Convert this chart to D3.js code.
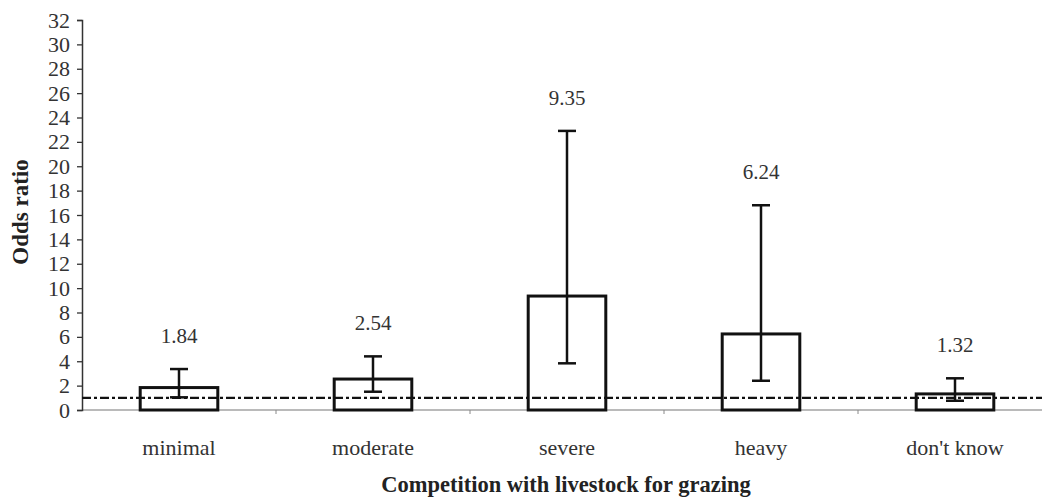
<!DOCTYPE html>
<html><head><meta charset="utf-8">
<script src="https://cdn.jsdelivr.net/npm/d3@7"></script>
<style>body{margin:0;background:#fff;}svg{display:block;}</style>
</head><body>
<svg id="c" width="1042" height="503"></svg>
<script>
const categories = ["minimal", "moderate", "severe", "heavy", "don't know"];
const oddsRatio = [1.84, 2.54, 9.35, 6.24, 1.32];
const ciLower = [1.04, 1.5, 3.83, 2.4, 0.76];
const ciUpper = [3.36, 4.4, 22.9, 16.8, 2.6];
const valueLabels = ["1.84", "2.54", "9.35", "6.24", "1.32"];
const yTicks = [0,2,4,6,8,10,12,14,16,18,20,22,24,26,28,30,32];
const referenceValue = 1;
const xTitle = "Competition with livestock for grazing";
const yTitle = "Odds ratio";

const svg = d3.select("#c");
const font = "'Liberation Serif','Times New Roman',serif";
const txt = "#333";
const x0 = 82, x1 = 1052, yTop = 20, yBot = 410;

const x = d3.scaleBand().domain(categories).range([x0, x1]).padding(0);
const y = d3.scaleLinear().domain([0, 32]).range([yBot, yTop]);

// x axis line + ticks at band boundaries
svg.append("line").attr("x1", x0).attr("x2", 1042).attr("y1", yBot).attr("y2", yBot)
  .attr("stroke", "#777").attr("stroke-width", 1.2);
categories.slice(1).forEach(c => {
  svg.append("line").attr("x1", x(c)).attr("x2", x(c)).attr("y1", yBot).attr("y2", yBot + 4)
    .attr("stroke", "#888").attr("stroke-width", 1);
});

// y axis
const yAxis = d3.axisLeft(y).tickValues(yTicks).tickSize(5).tickPadding(7).tickFormat(d3.format("d"));
const gy = svg.append("g").attr("transform", `translate(${x0},0)`).call(yAxis)
  .attr("font-family", font);
gy.select(".domain").attr("stroke", "#333").attr("stroke-width", 1.5);
gy.selectAll(".tick line").attr("stroke", "#333").attr("stroke-width", 1.3);
gy.selectAll(".tick text").attr("font-family", font).attr("font-size", 22).attr("fill", txt);

// bars
const bw = x.bandwidth() * 0.4;
const cx = c => x(c) + x.bandwidth() / 2;
svg.selectAll("rect.bar").data(categories).join("rect").attr("class", "bar")
  .attr("x", d => cx(d) - bw / 2)
  .attr("y", (d, i) => y(oddsRatio[i]))
  .attr("width", bw)
  .attr("height", (d, i) => y(0) - y(oddsRatio[i]))
  .attr("fill", "#fff").attr("stroke", "#111").attr("stroke-width", 3);

// reference line
svg.append("line").attr("x1", x0).attr("x2", 1042)
  .attr("y1", y(referenceValue)).attr("y2", y(referenceValue))
  .attr("stroke", "#111").attr("stroke-width", 2.2).attr("stroke-dasharray", "9,3,3,3");

// error bars
const cap = 9;
categories.forEach((c, i) => {
  const g = svg.append("g").attr("stroke", "#111").attr("stroke-width", 2.5);
  g.append("line").attr("x1", cx(c)).attr("x2", cx(c)).attr("y1", y(ciLower[i])).attr("y2", y(ciUpper[i]));
  g.append("line").attr("x1", cx(c) - cap).attr("x2", cx(c) + cap).attr("y1", y(ciLower[i])).attr("y2", y(ciLower[i]));
  g.append("line").attr("x1", cx(c) - cap).attr("x2", cx(c) + cap).attr("y1", y(ciUpper[i])).attr("y2", y(ciUpper[i]));
});

// value labels
svg.selectAll("text.val").data(categories).join("text").attr("class", "val")
  .attr("x", d => cx(d)).attr("y", (d, i) => y(ciUpper[i]) - 26)
  .attr("text-anchor", "middle").attr("font-family", font).attr("font-size", 21).attr("fill", txt)
  .text((d, i) => valueLabels[i]);

// category labels
svg.selectAll("text.cat").data(categories).join("text").attr("class", "cat")
  .attr("x", d => cx(d)).attr("y", 455)
  .attr("text-anchor", "middle").attr("font-family", font).attr("font-size", 22).attr("fill", txt)
  .text(d => d);

// axis titles
svg.append("text").attr("x", 566).attr("y", 492)
  .attr("text-anchor", "middle").attr("font-family", font).attr("font-size", 22.5)
  .attr("font-weight", "bold").attr("fill", "#222").text(xTitle);
svg.append("text").attr("transform", `translate(28,${(yTop + yBot) / 2 - 3}) rotate(-90)`)
  .attr("text-anchor", "middle").attr("font-family", font).attr("font-size", 23)
  .attr("font-weight", "bold").attr("fill", "#222").text(yTitle);
</script>
</body></html>
